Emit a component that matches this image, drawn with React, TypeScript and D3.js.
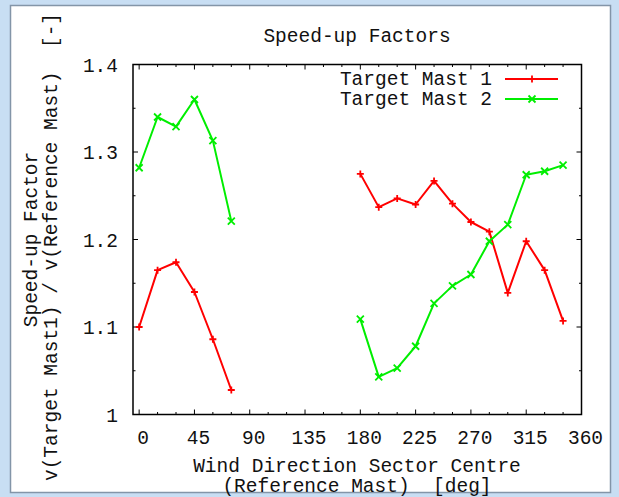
import React from 'react';
import * as d3 from 'd3';

// wind direction sectors (deg) and speed-up factors, null = no data
const sectors = [0, 15, 30, 45, 60, 75, 90, 105, 120, 135, 150, 165,
  180, 195, 210, 225, 240, 255, 270, 285, 300, 315, 330, 345];
const mast1 = [1.100, 1.165, 1.174, 1.140, 1.086, 1.028, null, null, null, null, null, null,
  1.275, 1.237, 1.247, 1.240, 1.267, 1.241, 1.220, 1.209, 1.139, 1.198, 1.165, 1.107];
const mast2 = [1.282, 1.340, 1.329, 1.360, 1.313, 1.221, null, null, null, null, null, null,
  1.109, 1.043, 1.053, 1.078, 1.127, 1.147, 1.160, 1.198, 1.217, 1.274, 1.278, 1.285];
const seriesNames = ['Target Mast 1', 'Target Mast 2'];
const xTicks = [0, 45, 90, 135, 180, 225, 270, 315, 360];
const yTicks = [1.0, 1.1, 1.2, 1.3, 1.4];

const FONT = '"Liberation Mono", "Courier New", monospace';
const FS = 19.5;

const W = 619, H = 497;
const plot = { left: 133, right: 581.5, top: 64.5, bottom: 414.5 };

const App = () => {
  const x = d3.scaleLinear().domain([-5, 360]).range([plot.left, plot.right]);
  const y = d3.scaleLinear().domain([1.0, 1.4]).range([plot.bottom, plot.top]);

  const line = d3.line<[number, number | null]>()
    .defined(d => d[1] != null)
    .x(d => x(d[0]))
    .y(d => y(d[1] as number));

  const series = [
    { name: seriesNames[0], values: mast1, color: '#ff0000', marker: 'plus' },
    { name: seriesNames[1], values: mast2, color: '#00ee00', marker: 'cross' },
  ];

  const marker = (type: string, cx: number, cy: number, color: string, key: any) => {
    const s = 3.5;
    const d = type === 'plus'
      ? `M${cx - s},${cy}H${cx + s}M${cx},${cy - s}V${cy + s}`
      : `M${cx - s},${cy - s}L${cx + s},${cy + s}M${cx - s},${cy + s}L${cx + s},${cy - s}`;
    return <path key={key} d={d} stroke={color} strokeWidth={1.8} fill="none" />;
  };

  const xMinor = d3.range(0, 361, 15);
  const yMinor = d3.range(1.0, 1.4001, 0.05);
  const midY = (plot.top + plot.bottom) / 2;

  return (
    <svg width={W} height={H} style={{ position: 'absolute', left: 0, top: 0 }}
      fontFamily={FONT} fontSize={FS}>
      <rect x={0} y={0} width={W} height={H} fill="#c8def3" />
      <rect x={10.5} y={5.5} width={600} height={487} fill="#ffffff" stroke="#8395a8" strokeWidth={1.5} />

      {/* title */}
      <text x={357} y={42} textAnchor="middle" fill="#111">Speed-up Factors</text>

      {/* ticks, bottom/top and left/right mirrored */}
      {xMinor.map(t => {
        const len = t % 45 === 0 ? 5 : 2.5;
        return (
          <g key={'xt' + t} stroke="#000" strokeWidth={1}>
            <line x1={x(t)} x2={x(t)} y1={plot.bottom} y2={plot.bottom - len} />
            <line x1={x(t)} x2={x(t)} y1={plot.top} y2={plot.top + len} />
          </g>
        );
      })}
      {yMinor.map((t, i) => {
        const len = i % 2 === 0 ? 5 : 2.5;
        return (
          <g key={'yt' + i} stroke="#000" strokeWidth={1}>
            <line x1={plot.left} x2={plot.left + len} y1={y(t)} y2={y(t)} />
            <line x1={plot.right} x2={plot.right - len} y1={y(t)} y2={y(t)} />
          </g>
        );
      })}

      {/* tick labels */}
      {xTicks.map(t => (
        <text key={'xl' + t} x={x(t) + 4} y={444} textAnchor="middle" fill="#111">{t}</text>
      ))}
      {yTicks.map(t => (
        <text key={'yl' + t} x={118} y={y(t) + 7} textAnchor="end" fill="#111">{+t.toFixed(1)}</text>
      ))}

      {/* axis labels */}
      <text x={357} y={472} textAnchor="middle" fill="#111">Wind Direction Sector Centre</text>
      <text x={357} y={492} textAnchor="middle" fill="#111" style={{ whiteSpace: 'pre' }}>(Reference Mast)  [deg]</text>
      <g transform={`translate(30,${midY}) rotate(-90)`}>
        <text x={0} y={7} textAnchor="middle" fill="#111">Speed-up Factor</text>
      </g>
      <g transform={`translate(50,247) rotate(-90)`}>
        <text x={0} y={7} textAnchor="middle" fill="#111" style={{ whiteSpace: 'pre' }}>v(Target Mast1) / v(Reference Mast)  [-]</text>
      </g>

      {/* series */}
      {series.map(s => {
        const pts = sectors.map((d, i) => [d, s.values[i]] as [number, number | null]);
        return (
          <g key={s.name}>
            <path d={line(pts) || ''} fill="none" stroke={s.color} strokeWidth={2} strokeLinejoin="round" />
            {pts.filter(p => p[1] != null).map((p, i) => marker(s.marker, x(p[0]), y(p[1] as number), s.color, i))}
          </g>
        );
      })}

      {/* legend */}
      {series.map((s, i) => {
        const ly = 79 + i * 20;
        return (
          <g key={'lg' + s.name}>
            <text x={492} y={ly + 6} textAnchor="end" fill="#111">{s.name}</text>
            <line x1={505} x2={558} y1={ly} y2={ly} stroke={s.color} strokeWidth={2} />
            {marker(s.marker, 532, ly, s.color, 'm')}
          </g>
        );
      })}

      {/* frame */}
      <rect x={plot.left} y={plot.top} width={plot.right - plot.left} height={plot.bottom - plot.top}
        fill="none" stroke="#000" strokeWidth={1.5} />
    </svg>
  );
};

export default App;
